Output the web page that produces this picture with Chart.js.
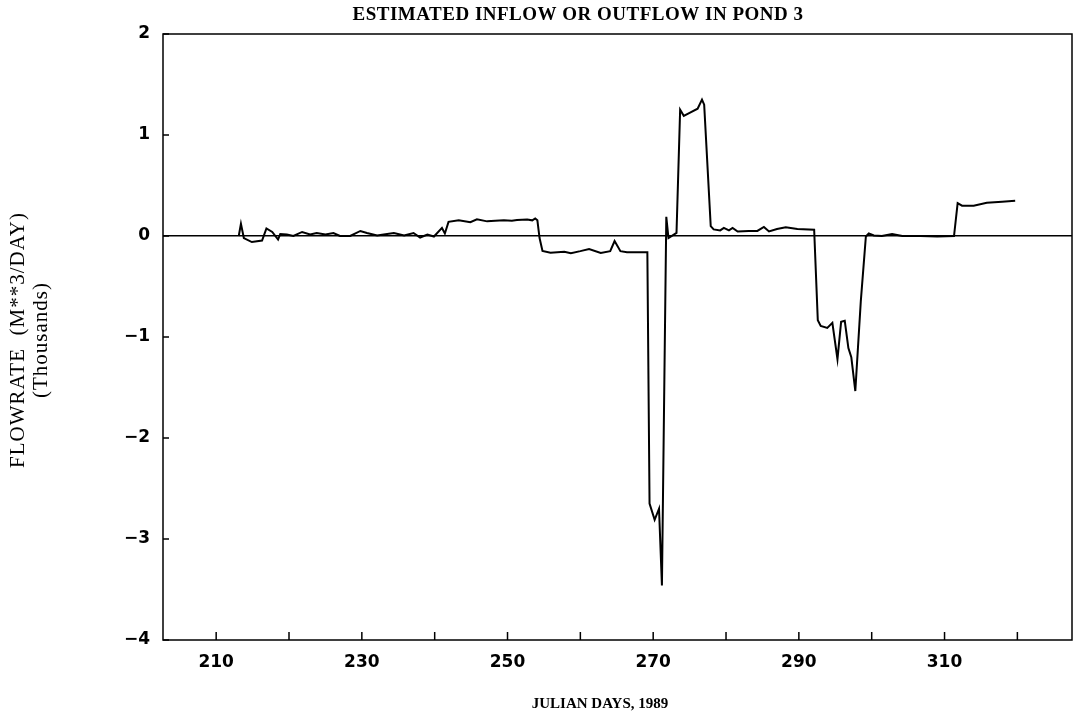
<!DOCTYPE html>
<html>
<head>
<meta charset="utf-8">
<script src="https://cdn.jsdelivr.net/npm/chart.js@4/dist/chart.umd.min.js"></script>
<style>
html, body { margin: 0; padding: 0; background: #fff; }
</style>
</head>
<body>
<canvas id="myChart" width="1073" height="717"></canvas>
<script>
// julian day (1989) and estimated flow in thousands of m3/day
var days = [
  213.1, 213.4, 213.8, 214.9, 216.3, 216.9, 217.7, 218.5, 218.8, 219.7,
  220.6, 221.8, 222.9, 223.8, 225.0, 226.1, 227.0, 228.4, 229.8, 230.7,
  232.1, 233.0, 234.4, 235.8, 237.1, 238.0, 239.0, 239.9, 241.0, 241.4,
  241.9, 243.3, 244.9, 245.8, 247.2, 248.3, 249.5, 250.6, 251.3, 252.7,
  253.4, 253.8, 254.1, 254.4, 254.8, 255.9, 257.8, 258.7, 260.0, 261.2,
  262.8, 264.1, 264.7, 265.5, 266.4, 267.8, 269.2, 269.5, 270.2, 270.8,
  271.2, 271.8, 272.1, 273.2, 273.7, 274.2, 275.0, 276.1, 276.7, 277.0,
  277.9, 278.3, 279.2, 279.7, 280.4, 280.9, 281.6, 283.1, 284.3, 285.2,
  285.9, 287.0, 288.2, 289.8, 292.1, 292.6, 293.0, 293.9, 294.6, 295.3,
  295.8, 296.3, 296.8, 297.2, 297.75, 298.5, 299.2, 299.6, 300.3, 301.4,
  302.8, 304.2, 306.7, 309.0, 311.3, 311.8, 312.4, 314.0, 315.8, 317.9,
  319.7
]
var flow = [
  0, 0.12, -0.02, -0.06, -0.045, 0.075, 0.04, -0.035, 0.02, 0.015,
  0.0, 0.04, 0.015, 0.03, 0.015, 0.03, 0.0, 0.0, 0.05, 0.03,
  0.005, 0.015, 0.03, 0.005, 0.03, -0.015, 0.015, -0.005, 0.08, 0.025,
  0.14, 0.157, 0.136, 0.166, 0.145, 0.15, 0.156, 0.15, 0.158, 0.164,
  0.155, 0.174, 0.155, -0.02, -0.148, -0.165, -0.155, -0.17, -0.15, -0.128,
  -0.167, -0.15, -0.05, -0.15, -0.16, -0.16, -0.16, -2.65, -2.81, -2.70,
  -3.46, 0.19, -0.02, 0.03, 1.25, 1.19, 1.22, 1.26, 1.35, 1.30,
  0.097, 0.065, 0.055, 0.08, 0.055, 0.08, 0.045, 0.05, 0.05, 0.09,
  0.045, 0.07, 0.086, 0.07, 0.063, -0.835, -0.89, -0.91, -0.86, -1.22,
  -0.85, -0.84, -1.11, -1.20, -1.535, -0.65, -0.005, 0.025, 0.005, 0.0,
  0.02, 0.0, 0.0, -0.005, 0.0, 0.325, 0.30, 0.30, 0.33, 0.34,
  0.35
]
var xLabels = [210, 230, 250, 270, 290, 310]
var tytul = "ESTIMATED INFLOW OR OUTFLOW IN POND 3"
var xTytul = "JULIAN DAYS, 1989"
var yTytul = ["FLOWRATE  (M**3/DAY)", "(Thousands)"]

var punkty = []
for (var i = 0; i <= days.length - 1; i++) {
  punkty.push({x: days[i], y: flow[i]})
}

var tickFont = {family: "DejaVu Sans", size: 17, weight: "bold"}

// frame, inward tick marks and the text around the plot
const ramka = {
  id: "ramka",
  afterDraw(chart) {
    const c = chart.ctx
    const a = chart.chartArea
    const sx = chart.scales.x
    const sy = chart.scales.y
    c.save()
    c.strokeStyle = "#000"
    c.lineWidth = 1.5
    c.strokeRect(a.left, a.top, a.right - a.left, a.bottom - a.top)
    c.beginPath()
    sx.ticks.forEach(t => {
      const px = sx.getPixelForValue(t.value)
      c.moveTo(px, a.bottom)
      c.lineTo(px, a.bottom - 8)
    })
    sy.ticks.forEach(t => {
      const py = sy.getPixelForValue(t.value)
      c.moveTo(a.left, py)
      c.lineTo(a.left + 6, py)
    })
    c.stroke()

    c.fillStyle = "#000"
    c.textAlign = "center"
    c.textBaseline = "middle"
    c.font = "bold 19px 'Liberation Serif'"
    c.letterSpacing = "0.5px"
    c.fillText(tytul, 578, 15)
    c.font = "bold 15px 'Liberation Serif'"
    c.letterSpacing = "0px"
    c.fillText(xTytul, 600, 704)
    c.font = "21px 'Liberation Serif'"
    c.letterSpacing = "1px"
    c.translate(18, 340)
    c.rotate(-Math.PI / 2)
    c.fillText(yTytul[0], 0, 0)
    c.fillText(yTytul[1], 0, 23)
    c.restore()
  }
}

const ctx = document.getElementById("myChart")
var char = new Chart(ctx, {
  type: "line",
  data: {
    datasets: [{
      label: "Flowrate",
      data: punkty,
      borderColor: "#000",
      borderWidth: 2,
      pointRadius: 0,
      tension: 0,
      fill: false
    }]
  },
  options: {
    responsive: false,
    animation: false,
    devicePixelRatio: 1,
    layout: {padding: {top: 34, right: 1, left: 0, bottom: 0}},
    plugins: {
      legend: {display: false},
      title: {display: false},
      tooltip: {enabled: false}
    },
    scales: {
      x: {
        type: "linear",
        min: 202.7,
        max: 327.5,
        grid: {display: false, drawTicks: false},
        border: {display: false},
        ticks: {
          stepSize: 10,
          includeBounds: false,
          autoSkip: false,
          maxRotation: 0,
          padding: 12,
          color: "#000",
          font: tickFont,
          callback: v => xLabels.indexOf(v) >= 0 ? String(v) : ""
        },
        afterFit: s => { s.height = 77 }
      },
      y: {
        min: -4,
        max: 2,
        grid: {
          drawTicks: false,
          lineWidth: 1.5,
          color: g => g.tick && g.tick.value === 0 ? "#000" : "rgba(0,0,0,0)"
        },
        border: {display: false},
        ticks: {
          stepSize: 1,
          padding: 13,
          color: "#000",
          font: tickFont,
          callback: v => v < 0 ? "\u2212" + Math.abs(v) : String(v)
        },
        afterFit: s => { s.width = 163 }
      }
    }
  },
  plugins: [ramka]
})
</script>
</body>
</html>
